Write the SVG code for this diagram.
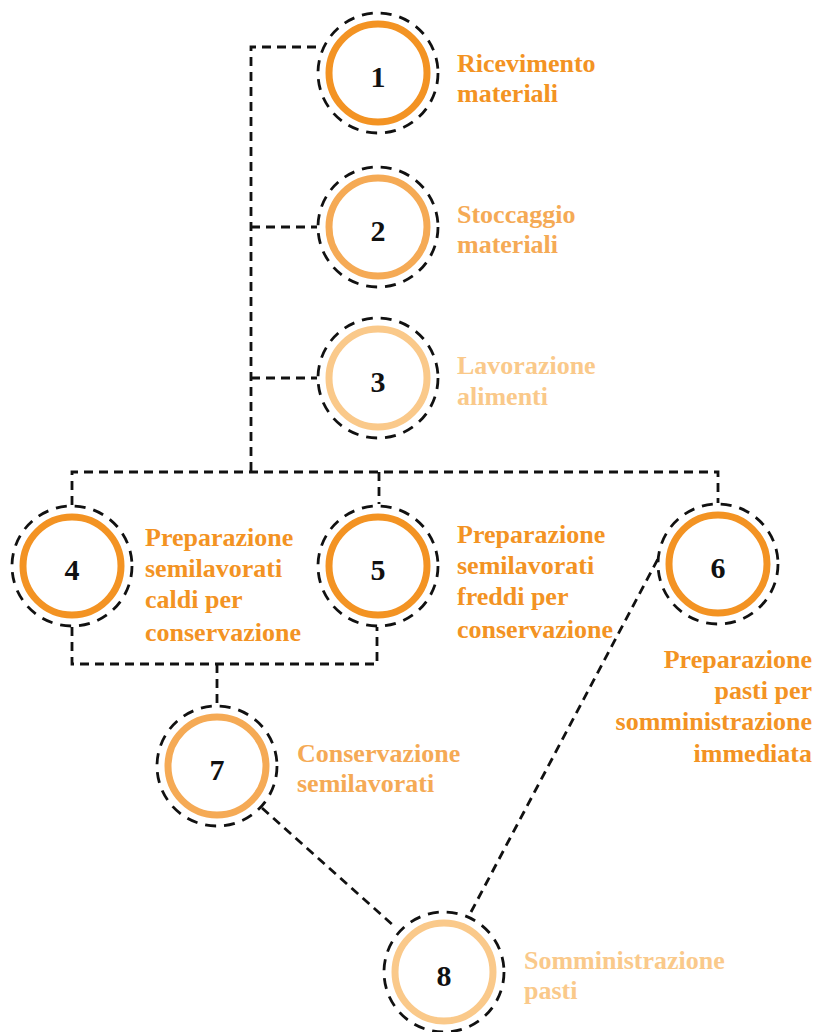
<svg xmlns="http://www.w3.org/2000/svg" width="816" height="1032" viewBox="0 0 816 1032">
<style>
.halo{fill:none;stroke:#111;stroke-width:2.8;stroke-dasharray:11 8}
.ring{fill:#fff;stroke-width:7}
.num{font-family:"Liberation Serif",serif;font-weight:bold;font-size:30px;fill:#111;text-anchor:middle}
.lbl{font-family:"Liberation Serif",serif;font-weight:bold;font-size:26px}
.c1{stroke:#F39323}.t1{fill:#F39323}
.c2{stroke:#F5AA55}.t2{fill:#F5AA55}
.c3{stroke:#FAC98A}.t3{fill:#FAC98A}
.conn{fill:none;stroke:#111;stroke-width:2.8;stroke-dasharray:9 6}
</style>
<rect width="816" height="1032" fill="#fff"/>
<g id="connectors">
<path class="conn" d="M316 47 H251 V471"/>
<path class="conn" d="M251 227 H317"/>
<path class="conn" d="M251 378 H317"/>
<path class="conn" d="M72 505 V472 H718 V503"/>
<path class="conn" d="M379 472 V504"/>
<path class="conn" d="M72 627 V664 H377 V627"/>
<path class="conn" d="M217 664 V705"/>
<path class="conn" d="M262 808 L394 926"/>
<path class="conn" d="M471 912 L660 555"/>
</g>
<g id="node1">
<circle class="halo" cx="378" cy="73" r="60"/>
<circle class="ring c1" cx="378" cy="73" r="49"/>
<text class="num" x="378" y="87">1</text>
<text class="lbl t1" x="457" y="72">Ricevimento</text>
<text class="lbl t1" x="457" y="102">materiali</text>
</g>
<g id="node2">
<circle class="halo" cx="378" cy="227" r="60"/>
<circle class="ring c2" cx="378" cy="227" r="49"/>
<text class="num" x="378" y="241">2</text>
<text class="lbl t2" x="457" y="223">Stoccaggio</text>
<text class="lbl t2" x="457" y="253">materiali</text>
</g>
<g id="node3">
<circle class="halo" cx="378" cy="378" r="60"/>
<circle class="ring c3" cx="378" cy="378" r="49"/>
<text class="num" x="378" y="392">3</text>
<text class="lbl t3" x="457" y="374">Lavorazione</text>
<text class="lbl t3" x="457" y="405">alimenti</text>
</g>
<g id="node4">
<circle class="halo" cx="72" cy="566" r="60"/>
<circle class="ring c1" cx="72" cy="566" r="49"/>
<text class="num" x="72" y="580">4</text>
<text class="lbl t1" x="145" y="546">Preparazione</text>
<text class="lbl t1" x="145" y="577">semilavorati</text>
<text class="lbl t1" x="145" y="608">caldi per</text>
<text class="lbl t1" x="145" y="641">conservazione</text>
</g>
<g id="node5">
<circle class="halo" cx="378" cy="566" r="60"/>
<circle class="ring c1" cx="378" cy="566" r="49"/>
<text class="num" x="378" y="580">5</text>
<text class="lbl t1" x="457" y="543">Preparazione</text>
<text class="lbl t1" x="457" y="574">semilavorati</text>
<text class="lbl t1" x="457" y="605">freddi per</text>
<text class="lbl t1" x="457" y="638">conservazione</text>
</g>
<g id="node6">
<circle class="halo" cx="718" cy="564" r="60"/>
<circle class="ring c1" cx="718" cy="564" r="49"/>
<text class="num" x="718" y="578">6</text>
<text class="lbl t1" x="812" y="668" text-anchor="end">Preparazione</text>
<text class="lbl t1" x="812" y="699" text-anchor="end">pasti per</text>
<text class="lbl t1" x="812" y="730" text-anchor="end">somministrazione</text>
<text class="lbl t1" x="812" y="762" text-anchor="end">immediata</text>
</g>
<g id="node7">
<circle class="halo" cx="217" cy="766" r="60"/>
<circle class="ring c2" cx="217" cy="766" r="49"/>
<text class="num" x="217" y="780">7</text>
<text class="lbl t2" x="297" y="762">Conservazione</text>
<text class="lbl t2" x="297" y="792">semilavorati</text>
</g>
<g id="node8">
<circle class="halo" cx="444" cy="972" r="60"/>
<circle class="ring c3" cx="444" cy="972" r="49"/>
<text class="num" x="444" y="986">8</text>
<text class="lbl t3" x="524" y="969">Somministrazione</text>
<text class="lbl t3" x="524" y="999">pasti</text>
</g>
</svg>
